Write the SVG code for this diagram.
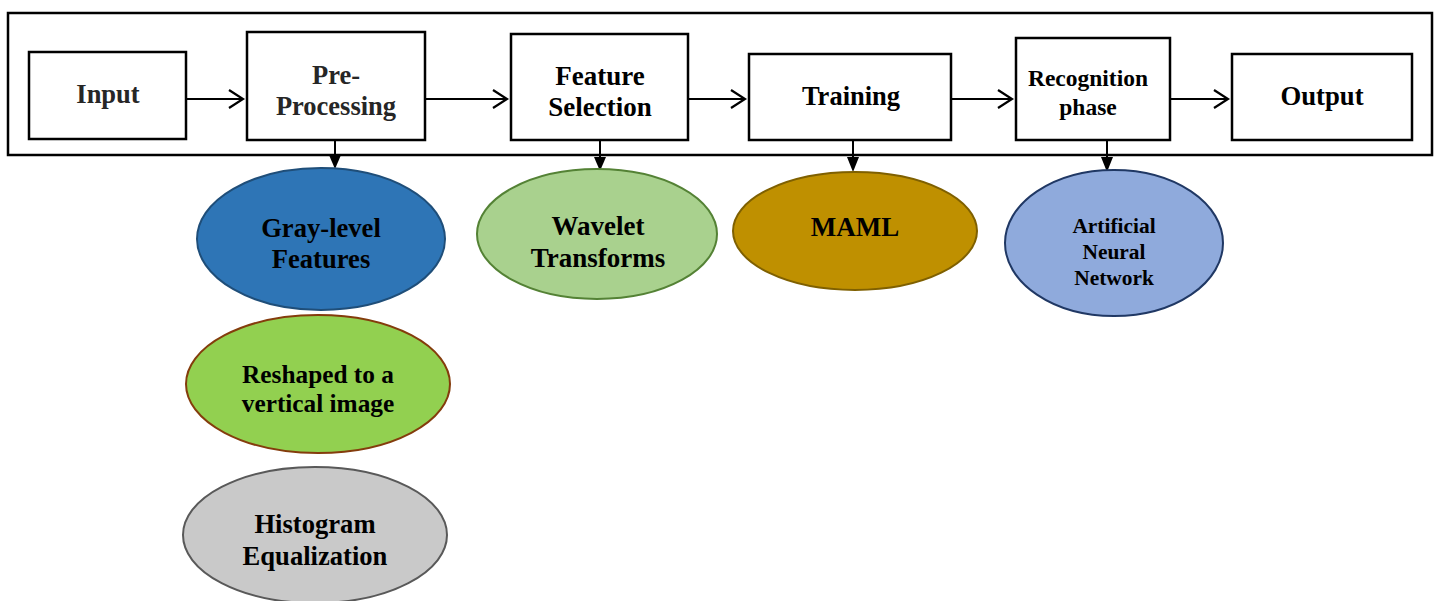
<svg xmlns="http://www.w3.org/2000/svg" width="1440" height="601" viewBox="0 0 1440 601">
<style>
.box{fill:#fff;stroke:#000;stroke-width:2.5}
.t{font-family:"Liberation Serif","Times New Roman",serif;font-weight:bold;text-anchor:middle;dominant-baseline:central;fill:#000}
.ln{stroke:#000;stroke-width:2;fill:none}
.chev{stroke:#000;stroke-width:2.2;fill:none}
.tri{fill:#000}
</style>
<rect width="1440" height="601" fill="#fff"/>
<rect id="frame" x="8" y="13" width="1424" height="142" fill="none" stroke="#000" stroke-width="2.5"/>
<g id="connectors">
  <line class="ln" x1="186" y1="99" x2="243" y2="99"/><polyline class="chev" points="229,90 243,99 229,108"/>
  <line class="ln" x1="425" y1="99" x2="507" y2="99"/><polyline class="chev" points="493,90 507,99 493,108"/>
  <line class="ln" x1="688" y1="99" x2="745" y2="99"/><polyline class="chev" points="731,90 745,99 731,108"/>
  <line class="ln" x1="951" y1="99" x2="1012" y2="99"/><polyline class="chev" points="998,90 1012,99 998,108"/>
  <line class="ln" x1="1170" y1="99" x2="1228" y2="99"/><polyline class="chev" points="1214,90 1228,99 1214,108"/>
  <line class="ln" x1="335" y1="140" x2="335" y2="156"/><polygon class="tri" points="329,155 341,155 335,169"/>
  <line class="ln" x1="600" y1="140" x2="600" y2="158"/><polygon class="tri" points="594,157 606,157 600,171"/>
  <line class="ln" x1="853" y1="140" x2="853" y2="158"/><polygon class="tri" points="847,157 859,157 853,172"/>
  <line class="ln" x1="1107" y1="140" x2="1107" y2="158"/><polygon class="tri" points="1101,157 1113,157 1107,172"/>
</g>
<g id="input"><rect class="box" x="29" y="52" width="157" height="87"/><text class="t" x="108" y="94" font-size="26.5" style="fill:#262626">Input</text></g>
<g id="preprocessing"><rect class="box" x="247" y="32" width="178" height="108"/><text class="t" x="336" y="75" font-size="26.5" style="fill:#262626">Pre-</text><text class="t" x="336" y="106" font-size="26.5" style="fill:#262626">Processing</text></g>
<g id="featureselection"><rect class="box" x="511" y="34" width="177" height="106"/><text class="t" x="600" y="76" font-size="27">Feature</text><text class="t" x="600" y="107" font-size="27">Selection</text></g>
<g id="training"><rect class="box" x="749" y="54" width="202" height="86"/><text class="t" x="851" y="96" font-size="26.5">Training</text></g>
<g id="recognition"><rect class="box" x="1016" y="38" width="154" height="102"/><text class="t" x="1088" y="78" font-size="23.5">Recognition</text><text class="t" x="1088" y="107" font-size="23.5">phase</text></g>
<g id="output"><rect class="box" x="1232" y="54" width="180" height="86"/><text class="t" x="1322" y="96" font-size="26.7">Output</text></g>
<g id="graylevel"><ellipse cx="321" cy="239" rx="124" ry="71" fill="#2E75B6" stroke="#1F4E79" stroke-width="2"/><text class="t" x="321" y="228" font-size="26.6">Gray-level</text><text class="t" x="321" y="259" font-size="26.6">Features</text></g>
<g id="wavelet"><ellipse cx="597" cy="234" rx="120" ry="65" fill="#A9D18E" stroke="#548235" stroke-width="2"/><text class="t" x="598" y="226" font-size="27">Wavelet</text><text class="t" x="598" y="258" font-size="27">Transforms</text></g>
<g id="maml"><ellipse cx="855" cy="231" rx="122" ry="59" fill="#BF9000" stroke="#7F6000" stroke-width="2"/><text class="t" x="855" y="227" font-size="27">MAML</text></g>
<g id="ann"><ellipse cx="1114" cy="243" rx="109" ry="73" fill="#8FAADC" stroke="#203864" stroke-width="2"/><text class="t" x="1114" y="226" font-size="21.4">Artificial</text><text class="t" x="1114" y="252" font-size="21.4">Neural</text><text class="t" x="1114" y="278" font-size="21.4">Network</text></g>
<g id="reshaped"><ellipse cx="318" cy="384" rx="132" ry="69" fill="#92D050" stroke="#843C0C" stroke-width="2"/><text class="t" x="318" y="374" font-size="25.3">Reshaped to a</text><text class="t" x="318" y="403" font-size="25.3">vertical image</text></g>
<g id="histogram"><ellipse cx="315" cy="535" rx="132" ry="68" fill="#C9C9C9" stroke="#595959" stroke-width="2"/><text class="t" x="315" y="524" font-size="26.6">Histogram</text><text class="t" x="315" y="556" font-size="26.6">Equalization</text></g>
</svg>
